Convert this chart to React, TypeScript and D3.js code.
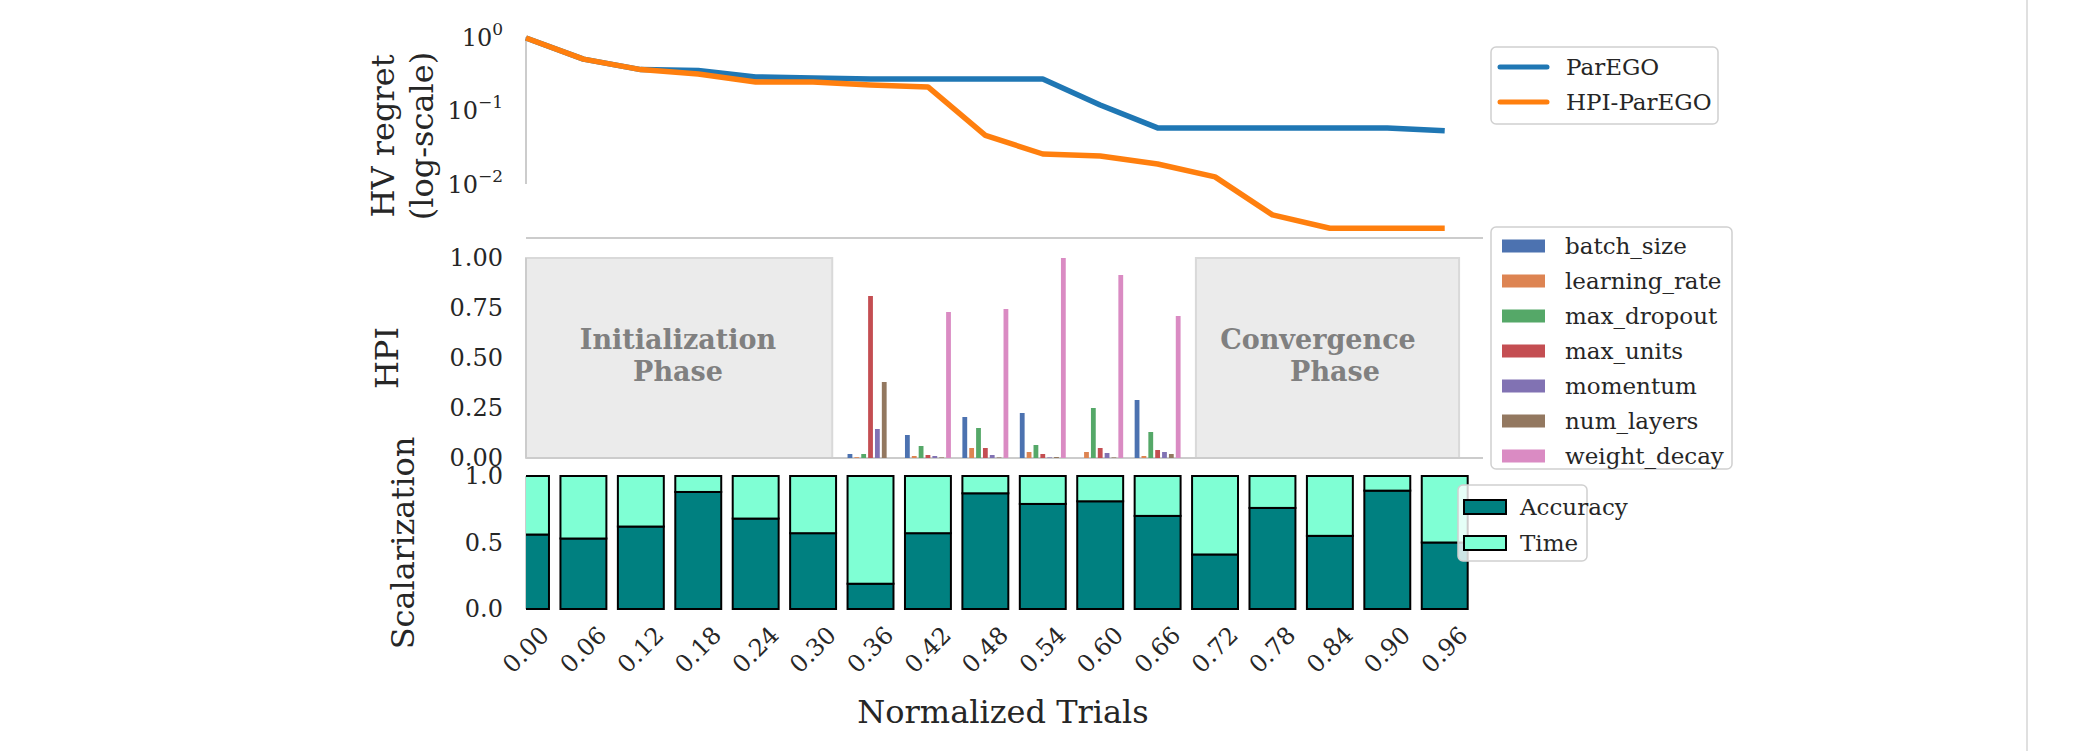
import React, { useEffect } from 'react';
import * as d3 from 'd3';

// normalized trial positions shared by all three panels
const trials = [0.0, 0.06, 0.12, 0.18, 0.24, 0.3, 0.36, 0.42, 0.48, 0.54, 0.6, 0.66, 0.72, 0.78, 0.84, 0.9, 0.96];
const trialLabels = ['0.00', '0.06', '0.12', '0.18', '0.24', '0.30', '0.36', '0.42', '0.48', '0.54', '0.60', '0.66', '0.72', '0.78', '0.84', '0.90', '0.96'];

// HV regret (log scale)
const parego = [0.97, 0.5, 0.36, 0.35, 0.286, 0.277, 0.268, 0.268, 0.268, 0.268, 0.119, 0.058, 0.058, 0.058, 0.058, 0.058, 0.053];
const hpiParego = [0.97, 0.5, 0.36, 0.314, 0.244, 0.244, 0.222, 0.209, 0.046, 0.0256, 0.024, 0.0187, 0.0125, 0.0038, 0.0025, 0.0025, 0.0025];
const logTicks = [1, 0.1, 0.01];
const logTickExp = ['0', '\u22121', '\u22122'];

// HPI per hyperparameter, for the trials between the two phases
const hpiTrials = [0.36, 0.42, 0.48, 0.54, 0.6, 0.66];
const hyperparams = ['batch_size', 'learning_rate', 'max_dropout', 'max_units', 'momentum', 'num_layers', 'weight_decay'];
const hpColors = ['#4c72b0', '#dd8452', '#55a868', '#c44e52', '#8172b3', '#937860', '#da8bc3'];
const batchSize = [0.02, 0.115, 0.205, 0.225, 0.0, 0.29];
const learningRate = [0.004, 0.01, 0.05, 0.03, 0.03, 0.01];
const maxDropout = [0.02, 0.06, 0.15, 0.065, 0.25, 0.13];
const maxUnits = [0.81, 0.015, 0.05, 0.02, 0.05, 0.04];
const momentum = [0.145, 0.01, 0.015, 0.003, 0.025, 0.03];
const numLayers = [0.38, 0.003, 0.003, 0.005, 0.003, 0.02];
const weightDecay = [0.0, 0.73, 0.745, 1.0, 0.915, 0.71];
const hpiSeries = [batchSize, learningRate, maxDropout, maxUnits, momentum, numLayers, weightDecay];
const hpiTicks = [0, 0.25, 0.5, 0.75, 1];
const hpiTickLabels = ['0.00', '0.25', '0.50', '0.75', '1.00'];

// phases (in normalized trials)
const initPhase = [0.0, 0.32];
const convPhase = [0.7, 0.975];

// scalarization weights
const accuracy = [0.56, 0.53, 0.62, 0.88, 0.68, 0.57, 0.19, 0.57, 0.87, 0.79, 0.81, 0.7, 0.41, 0.76, 0.55, 0.89, 0.5];
const scalTicks = [0, 0.5, 1];
const scalTickLabels = ['0.0', '0.5', '1.0'];

const FONT = '"DejaVu Serif", serif';
const TXT = '#262626';
const SPINE = '#cccccc';

export default function App() {
  useEffect(() => {
    document.body.style.margin = '0';
  }, []);

  const x = d3.scaleLinear().domain([0, 1]).range([526, 1483]);
  const yTop = d3.scaleLog().domain([0.01, 1]).range([184, 37]);
  const yHpi = d3.scaleLinear().domain([0, 1]).range([458, 258]);
  const yScal = d3.scaleLinear().domain([0, 1]).range([609, 476]);

  const line = d3.line<number>()
    .x((_, i) => x(trials[i]))
    .y(d => yTop(d));

  const barW = x(0.048) - x(0);
  const sub = d3.scaleBand<string>()
    .domain(hyperparams)
    .range([-barW / 2, barW / 2])
    .paddingInner(0.3);

  return (
    <svg width={2091} height={751} style={{ display: 'block', background: '#fff' }} fontFamily={FONT}>
      <defs>
        <clipPath id="scal-clip">
          <rect x={x(0)} y={0} width={x(1) - x(0)} height={751} />
        </clipPath>
      </defs>

      {/* right border line */}
      <line x1={2027} x2={2027} y1={0} y2={751} stroke="#d6d6d6" strokeWidth={1.5} />

      {/* ---------- top panel: HV regret ---------- */}
      <line x1={x(0)} x2={x(0)} y1={yTop(1)} y2={yTop(0.01)} stroke={SPINE} strokeWidth={2} />
      <line x1={x(0)} x2={x(1)} y1={238} y2={238} stroke={SPINE} strokeWidth={2} />
      {logTicks.map((t, i) => (
        <text key={t} x={503} y={yTop(t)} dy="0.36em" textAnchor="end" fontSize={24} fill={TXT}>
          10<tspan dy={-11} fontSize={17}>{logTickExp[i]}</tspan>
        </text>
      ))}
      <path d={line(parego) || ''} fill="none" stroke="#1f77b4" strokeWidth={5.5} strokeLinejoin="round" />
      <path d={line(hpiParego) || ''} fill="none" stroke="#ff7f0e" strokeWidth={5.5} strokeLinejoin="round" />
      <text transform="translate(383,136) rotate(-90)" textAnchor="middle" dominantBaseline="central" fontSize={32} fill={TXT}>HV regret</text>
      <text transform="translate(422,136) rotate(-90)" textAnchor="middle" dominantBaseline="central" fontSize={32} fill={TXT}>(log-scale)</text>

      {/* legend 1 */}
      <rect x={1491} y={47} width={227} height={77} rx={5} fill="#fff" stroke="#d0d0d0" strokeWidth={1.5} />
      <line x1={1500} x2={1547} y1={67} y2={67} stroke="#1f77b4" strokeWidth={5} strokeLinecap="round" />
      <line x1={1500} x2={1547} y1={102} y2={102} stroke="#ff7f0e" strokeWidth={5} strokeLinecap="round" />
      <text x={1566} y={67} dy="0.35em" fontSize={23} fill={TXT}>ParEGO</text>
      <text x={1566} y={102} dy="0.35em" fontSize={23} fill={TXT}>HPI-ParEGO</text>

      {/* ---------- middle panel: HPI ---------- */}
      {[initPhase, convPhase].map((p, i) => (
        <rect key={i} x={x(p[0])} y={yHpi(1)} width={x(p[1]) - x(p[0])} height={yHpi(0) - yHpi(1)}
          fill="#ebebeb" stroke="#d9d9d9" strokeWidth={2} />
      ))}
      <line x1={x(0)} x2={x(0)} y1={yHpi(1)} y2={yHpi(0)} stroke={SPINE} strokeWidth={2} />
      <line x1={x(0)} x2={x(1)} y1={yHpi(0)} y2={yHpi(0)} stroke={SPINE} strokeWidth={2} />
      <g fontSize={27} fontWeight="bold" fill="#808080" textAnchor="middle">
        <text x={678} y={340} dy="0.35em">Initialization</text>
        <text x={678} y={372} dy="0.35em">Phase</text>
        <text x={1318} y={340} dy="0.35em">Convergence</text>
        <text x={1335} y={372} dy="0.35em">Phase</text>
      </g>
      {hpiTrials.map((t, gi) => (
        <g key={t}>
          {hyperparams.map((h, hi) => {
            const v = hpiSeries[hi][gi];
            return (
              <rect key={h} x={x(t) + (sub(h) || 0)} y={yHpi(v)} width={sub.bandwidth()}
                height={yHpi(0) - yHpi(v)} fill={hpColors[hi]} />
            );
          })}
        </g>
      ))}
      {hpiTicks.map((t, i) => (
        <text key={t} x={503} y={yHpi(t)} dy="0.35em" textAnchor="end" fontSize={24} fill={TXT}>{hpiTickLabels[i]}</text>
      ))}
      <text transform="translate(387,358) rotate(-90)" textAnchor="middle" dominantBaseline="central" fontSize={32} fill={TXT}>HPI</text>

      {/* legend 2 */}
      <rect x={1491} y={227} width={241} height={242} rx={5} fill="#fff" stroke="#d0d0d0" strokeWidth={1.5} />
      {hyperparams.map((h, i) => (
        <g key={h}>
          <rect x={1502} y={246 + i * 35 - 6.5} width={43} height={13} fill={hpColors[i]} />
          <text x={1565} y={246 + i * 35} dy="0.35em" fontSize={23} fill={TXT}>{h}</text>
        </g>
      ))}

      {/* ---------- bottom panel: scalarization ---------- */}
      <line x1={x(0)} x2={x(0)} y1={yScal(1)} y2={yScal(0)} stroke={SPINE} strokeWidth={2} />
      <g clipPath="url(#scal-clip)">
        {trials.map((t, i) => (
          <g key={t}>
            <rect x={x(t) - barW / 2} y={yScal(accuracy[i])} width={barW} height={yScal(0) - yScal(accuracy[i])}
              fill="#008080" stroke="#000" strokeWidth={2} />
            <rect x={x(t) - barW / 2} y={yScal(1)} width={barW} height={yScal(accuracy[i]) - yScal(1)}
              fill="#7fffd4" stroke="#000" strokeWidth={2} />
          </g>
        ))}
      </g>
      {scalTicks.map((t, i) => (
        <text key={t} x={503} y={yScal(t)} dy="0.35em" textAnchor="end" fontSize={24} fill={TXT}>{scalTickLabels[i]}</text>
      ))}
      <text transform="translate(403,543) rotate(-90)" textAnchor="middle" dominantBaseline="central" fontSize={32} fill={TXT}>Scalarization</text>
      {trials.map((t, i) => (
        <text key={t} transform={`translate(${x(t)},650) rotate(-45)`} textAnchor="middle" dominantBaseline="central"
          fontSize={24} fill={TXT}>{trialLabels[i]}</text>
      ))}
      <text x={1003} y={712} textAnchor="middle" dominantBaseline="central" fontSize={32} fill={TXT}>Normalized Trials</text>

      {/* legend 3 (semi-transparent frame like matplotlib's default) */}
      <rect x={1458} y={485} width={129} height={76} rx={5} fill="#fff" fillOpacity={0.8} stroke="#d0d0d0" strokeWidth={1.5} />
      <rect x={1464} y={500} width={42} height={14} fill="#008080" stroke="#000" strokeWidth={2} />
      <rect x={1464} y={536} width={42} height={14} fill="#7fffd4" stroke="#000" strokeWidth={2} />
      <text x={1520} y={507} dy="0.35em" fontSize={23} fill={TXT}>Accuracy</text>
      <text x={1520} y={543} dy="0.35em" fontSize={23} fill={TXT}>Time</text>
    </svg>
  );
}
